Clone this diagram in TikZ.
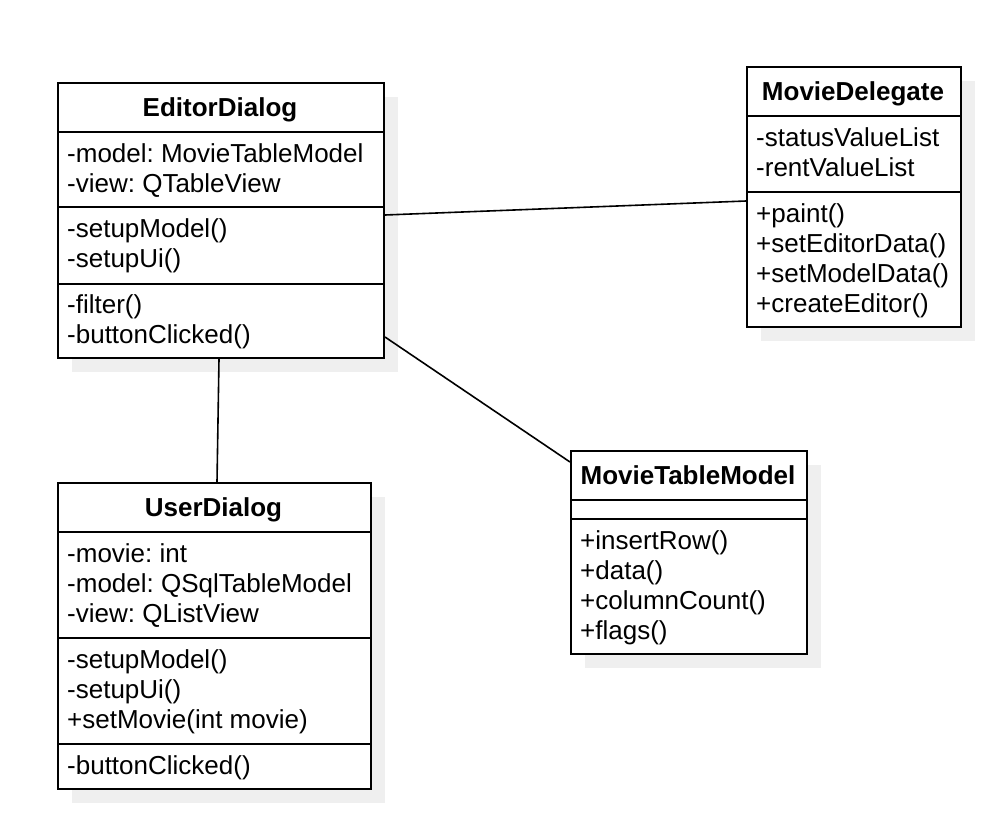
\documentclass[tikz,border=0pt]{standalone}
\usepackage{fontspec}
\setmainfont{Liberation Sans}
\usetikzlibrary{shadows}
\frenchspacing
\definecolor{shadowgray}{HTML}{EFEFEF}
\tikzset{
  cls/.style={draw, line width=2pt, fill=white, inner sep=0pt, anchor=north west,
    drop shadow={shadow xshift=14pt, shadow yshift=-14pt, fill=shadowgray, opacity=1}},
  txt/.style={anchor=base west, inner sep=0pt, font=\fontsize{26}{30}\selectfont\frenchspacing},
  ttl/.style={anchor=base, inner sep=0pt, font=\fontsize{26}{30}\selectfont\bfseries},
  divline/.style={line width=2pt},
  assoc/.style={line width=1.6pt},
}
\begin{document}
\begin{tikzpicture}[x=1pt, y=-1pt]
\fill[white] (0,0) rectangle (1002,822);
\useasboundingbox (0,0) rectangle (1002,822);

% EditorDialog
\node[cls, minimum width=326pt, minimum height=275pt] (ed) at (57,82) {};
\node[ttl] (edt) at (220,116) {EditorDialog};
\draw[divline] (57,132) -- (383,132);
\draw[divline] (57,207) -- (383,207);
\draw[divline] (57,284) -- (383,284);
\node[txt] (eda1) at (67,162) {-model: MovieTableModel};
\node[txt] (eda2) at (67,192) {-view: QTableView};
\node[txt] (edm1) at (67,237) {-setupModel()};
\node[txt] (edm2) at (67,267) {-setupUi()};
\node[txt] (edm3) at (67,313) {-filter()};
\node[txt] (edm4) at (67,343) {-buttonClicked()};

% MovieDelegate
\node[cls, minimum width=214pt, minimum height=260pt] (md) at (746,66) {};
\node[ttl] (mdt) at (853,100) {MovieDelegate};
\draw[divline] (746,116) -- (960,116);
\draw[divline] (746,192) -- (960,192);
\node[txt] (mda1) at (756,146) {-statusValueList};
\node[txt] (mda2) at (756,176) {-rentValueList};
\node[txt] (mdm1) at (756,222) {+paint()};
\node[txt] (mdm2) at (756,252) {+setEditorData()};
\node[txt] (mdm3) at (756,282) {+setModelData()};
\node[txt] (mdm4) at (756,312) {+createEditor()};

% UserDialog
\node[cls, minimum width=313pt, minimum height=306pt] (ud) at (57,482) {};
\node[ttl] (udt) at (213.5,516) {UserDialog};
\draw[divline] (57,532) -- (370,532);
\draw[divline] (57,638) -- (370,638);
\draw[divline] (57,744) -- (370,744);
\node[txt] (uda1) at (67,562) {-movie: int};
\node[txt] (uda2) at (67,592) {-model: QSqlTableModel};
\node[txt] (uda3) at (67,622) {-view: QListView};
\node[txt] (udm1) at (67,668) {-setupModel()};
\node[txt] (udm2) at (67,698) {-setupUi()};
\node[txt] (udm3) at (67,728) {+setMovie(int movie)};
\node[txt] (udm4) at (67,774) {-buttonClicked()};

% MovieTableModel
\node[cls, minimum width=236pt, minimum height=203pt] (mtm) at (570,450) {};
\node[ttl] (mtmt) at (688,484) {MovieTableModel};
\draw[divline] (570,500) -- (806,500);
\draw[divline] (570,519) -- (806,519);
\node[txt] (mtmm1) at (580,549) {+insertRow()};
\node[txt] (mtmm2) at (580,579) {+data()};
\node[txt] (mtmm3) at (580,609) {+columnCount()};
\node[txt] (mtmm4) at (580,639) {+flags()};

% associations
\draw[assoc] ([yshift=5.5pt]ed.east) -- ([yshift=-4pt]md.west);
\draw[assoc] ([yshift=22pt]ed.south east) -- ([yshift=-12pt]mtm.north west);
\draw[assoc] ([xshift=-2pt]ed.south) -- ([xshift=2.5pt]ud.north);
\end{tikzpicture}
\end{document}
